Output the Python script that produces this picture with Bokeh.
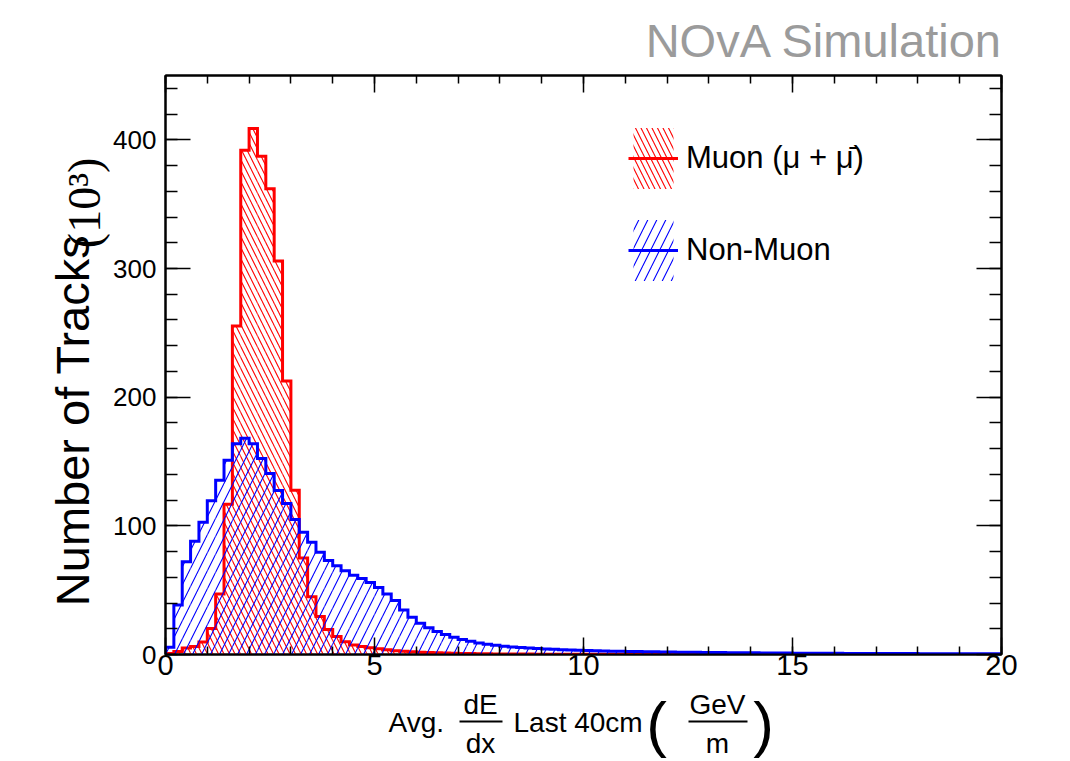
import math
from bokeh.plotting import figure
from bokeh.layouts import column, row
from bokeh.models import (Range1d, LinearAxis, SingleIntervalTicker, Legend,
                          LegendItem)
from bokeh.embed import file_html
from bokeh.resources import INLINE
from bokeh.core.properties import value

# ---------------- data ----------------
bin_width = 0.2
x_low = 0.0
x_high = 20.0
y_high = 450.0

muon_counts = [
    0.8, 2.3, 5.0, 6.3, 9.8, 20.3, 47.0, 116.7, 255.4, 392.0,
    408.9, 387.2, 362.0, 305.8, 212.6, 127.7, 75.0, 44.8, 29.6, 19.5,
    13.9, 10.0, 7.3, 6.2, 5.2, 4.4, 3.6, 3.0, 2.5, 2.1,
    1.8, 1.5, 1.3, 1.1, 0.95, 0.8, 0.7, 0.6, 0.5, 0.45,
    0.4, 0.35, 0.3, 0.3, 0.25, 0.25, 0.2, 0.2, 0.2, 0.15,
    0.15, 0.15, 0.12, 0.12, 0.1, 0.1, 0.1, 0.1, 0.08, 0.08,
    0.08, 0.07, 0.07, 0.06, 0.06, 0.06, 0.05, 0.05, 0.05, 0.05,
    0.04, 0.04, 0.04, 0.04, 0.04, 0.04, 0.04, 0.04, 0.04, 0.04,
    0.03, 0.03, 0.03, 0.03, 0.03, 0.03, 0.03, 0.03, 0.03, 0.03,
    0.02, 0.02, 0.02, 0.02, 0.02, 0.02, 0.02, 0.02, 0.02, 0.02,
]

nonmuon_counts = [
    5.7, 38.5, 72.0, 88.0, 102.8, 119.4, 135.4, 150.9, 163.8, 168.0,
    163.8, 152.3, 140.7, 127.4, 117.4, 105.0, 95.0, 87.3, 79.5, 73.0,
    69.0, 65.0, 61.5, 59.0, 56.0, 52.0, 47.0, 42.0, 34.5, 29.0,
    24.3, 20.7, 17.9, 15.5, 13.4, 11.6, 10.3, 9.0, 8.0, 7.2,
    6.5, 5.9, 5.4, 5.0, 4.6, 4.3, 4.0, 3.7, 3.5, 3.3,
    3.1, 2.9, 2.8, 2.6, 2.5, 2.4, 2.3, 2.2, 2.1, 2.0,
    1.9, 1.8, 1.75, 1.7, 1.6, 1.55, 1.5, 1.45, 1.4, 1.35,
    1.3, 1.25, 1.2, 1.15, 1.1, 1.05, 1.0, 1.0, 0.95, 0.9,
    0.9, 0.85, 0.85, 0.8, 0.8, 0.75, 0.75, 0.7, 0.7, 0.7,
    0.65, 0.65, 0.6, 0.6, 0.6, 0.55, 0.55, 0.5, 0.5, 0.5,
]

series_names = ["Muon (\u03bc + \u03bc\u0304)", "Non-Muon"]
x_tick_step = 5
y_tick_step = 100

FONT = "Liberation Sans"
SERIF = "Liberation Serif"
LIGHT = "'DejaVu Sans ExtraLight', 'Noto Sans Light', 'Liberation Sans'"

# ---------------- page geometry (pixels) ----------------
TOTAL_W, TOTAL_H = 1064, 760
FL, FR, FT, FB = 164, 1001, 75, 654      # frame edges on the page
TOP_H = 70                               # strip with "NOvA Simulation"
LEFT_W = 110                             # strip with the y title
MAIN_TOP = 5
MAIN_BOTTOM = 34
MAIN_H = MAIN_TOP + (FB - FT) + MAIN_BOTTOM
MAIN_W = TOTAL_W - LEFT_W
BOT_Y0 = TOP_H + MAIN_H
BOT_H = TOTAL_H - BOT_Y0


def strip(x0, x1, y0, y1):
    s = figure(width=x1 - x0, height=y1 - y0, x_range=Range1d(x0, x1),
               y_range=Range1d(y1, y0), min_border=0, title=None,
               toolbar_location=None, output_backend="svg",
               x_axis_type=None, y_axis_type=None)
    s.outline_line_color = None
    s.background_fill_color = "white"
    s.border_fill_color = "white"
    return s


def txt(s, x, y, t, size, align="center", color="black", font=FONT,
        angle=0.0):
    # (x, y) is the centre of the text line, in page pixels
    s.text(x=[x], y=[y], text=[t], angle=angle, text_align=align,
           text_baseline="middle", text_font=value(font),
           text_font_size=value(size), text_color=color)


# ---------------- main figure ----------------
p = figure(width=MAIN_W, height=MAIN_H, x_range=Range1d(x_low, x_high),
           y_range=Range1d(0, y_high), output_backend="svg", title=None,
           toolbar_location=None, min_border_left=FL - LEFT_W,
           min_border_right=TOTAL_W - FR, min_border_top=MAIN_TOP,
           min_border_bottom=MAIN_BOTTOM)
p.grid.visible = False
p.background_fill_color = "white"
p.border_fill_color = "white"
p.outline_line_color = "black"
p.outline_line_width = 2


def histo(counts):
    lefts = [x_low + i * bin_width for i in range(len(counts))]
    rights = [l + bin_width for l in lefts]
    xs, ys = [lefts[0]], [0.0]
    for l, r, c in zip(lefts, rights, counts):
        xs += [l, r]
        ys += [c, c]
    xs.append(rights[-1])
    ys.append(0.0)
    return lefts, rights, xs, ys


ml, mr, mxs, mys = histo(muon_counts)
nl, nr, nxs, nys = histo(nonmuon_counts)

q_mu = p.quad(left=ml, right=mr, bottom=0, top=muon_counts,
              fill_alpha=0, line_alpha=0,
              hatch_pattern="\\", hatch_color="#ff0000",
              hatch_weight=1.1, hatch_scale=11)
l_mu = p.line(mxs, mys, line_color="#ff0000", line_width=3,
              line_join="miter")
q_nm = p.quad(left=nl, right=nr, bottom=0, top=nonmuon_counts,
              fill_alpha=0, line_alpha=0,
              hatch_pattern="/", hatch_color="#0000ff",
              hatch_weight=1.1, hatch_scale=18)
l_nm = p.line(nxs, nys, line_color="#0000ff", line_width=3,
              line_join="miter")

bottom_ax = p.below[0]
left_ax = p.left[0]
top_ax = LinearAxis()
right_ax = LinearAxis()
p.add_layout(top_ax, "above")
p.add_layout(right_ax, "right")

for ax in [bottom_ax, top_ax]:
    ax.ticker = SingleIntervalTicker(interval=x_tick_step, num_minor_ticks=5)
    ax.major_tick_in = 17
    ax.minor_tick_in = 8
for ax in [left_ax, right_ax]:
    ax.ticker = SingleIntervalTicker(interval=y_tick_step, num_minor_ticks=5)
    ax.major_tick_in = 25
    ax.minor_tick_in = 12
for ax in [bottom_ax, top_ax, left_ax, right_ax]:
    ax.major_tick_out = 0
    ax.minor_tick_out = 0
    ax.axis_line_color = "black"
    ax.axis_line_width = 2
    ax.major_tick_line_width = 1.5
    ax.minor_tick_line_width = 1.5
    ax.major_tick_line_color = "black"
    ax.minor_tick_line_color = "black"
    ax.major_label_text_font = FONT
    ax.major_label_text_color = "black"
for ax in [top_ax, right_ax]:
    ax.major_label_text_font_size = "0px"
    ax.major_label_text_alpha = 0
    ax.major_label_standoff = 0

bottom_ax.major_label_text_font_size = "29px"
bottom_ax.major_label_standoff = 0
left_ax.major_label_text_font_size = "26px"
left_ax.major_label_standoff = 9

GW, GH, GS = 50, 76, 16
legend = Legend(items=[LegendItem(label=series_names[0], renderers=[q_mu, l_mu]),
                       LegendItem(label=series_names[1], renderers=[q_nm, l_nm])],
                location=(627 - FL, FB - (120 + 2 * GH + GS)),
                orientation="vertical",
                glyph_width=GW, glyph_height=GH, spacing=GS,
                padding=0, margin=0, label_standoff=8,
                label_text_font=FONT, label_text_font_size="31px",
                label_text_color="black",
                border_line_alpha=0, background_fill_alpha=0)
p.add_layout(legend)

# ---------------- text strips (coordinates are page pixels) ----------------
top = strip(0, TOTAL_W, 0, TOP_H)
txt(top, 1003, 40, "NOvA Simulation", "47px", align="right", color="#9b9b9b")

left = strip(0, LEFT_W, TOP_H, TOP_H + MAIN_H)
txt(left, 72, 438, "Number of Tracks", "47px", angle=math.pi / 2)
txt(left, 84, 206, "(10\u00b3)", "46px", angle=math.pi / 2, font=SERIF)

bot = strip(0, TOTAL_W, BOT_Y0, TOTAL_H)
txt(bot, 388, 722, "Avg.", "28px", align="left")
txt(bot, 480, 704, "dE", "28px")
txt(bot, 480, 743, "dx", "28px")
txt(bot, 513, 722, "Last 40cm", "28px", align="left")
txt(bot, 656, 723, "(", "62px", font=LIGHT)
txt(bot, 717, 704, "GeV", "28px")
txt(bot, 717, 743, "m", "28px")
txt(bot, 763, 723, ")", "62px", font=LIGHT)
bot.segment(x0=[459, 688], y0=[721, 721], x1=[502, 747], y1=[721, 721],
            line_width=2, line_color="black")

layout = column(top, row(left, p, spacing=0), bot, spacing=0)

open("out.html", "w").write(file_html(layout, INLINE))
